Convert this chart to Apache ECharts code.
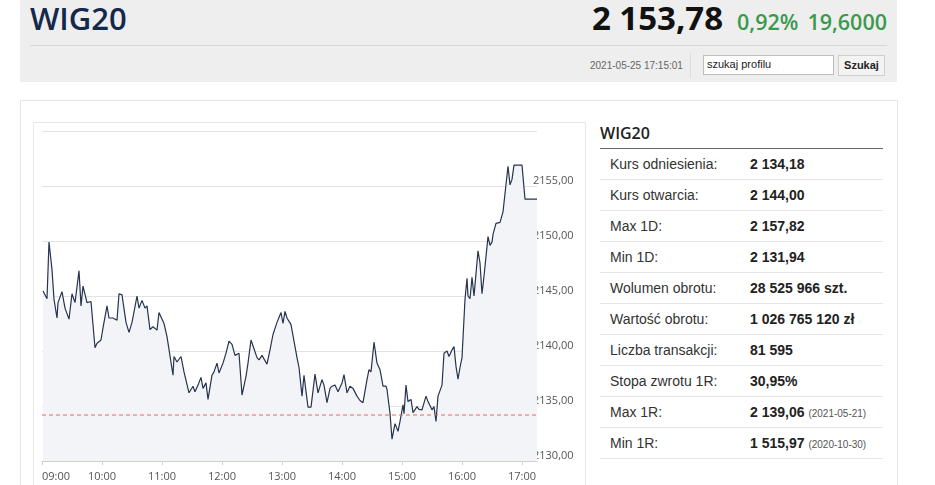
<!DOCTYPE html>
<html>
<head>
<meta charset="utf-8">
<script src="https://cdn.jsdelivr.net/npm/echarts@6/dist/echarts.min.js"></script>
<style>
html, body { margin: 0; padding: 0; width: 935px; height: 485px; overflow: hidden; background: #fff; }
body { position: relative; font-family: "Liberation Sans", Arial, sans-serif; color: #222; }
.abs { position: absolute; }
#head { left: 20px; top: 0; width: 877px; height: 82px; background: #eeeeee; }
#title { left: 30px; top: 0; font: 600 31px/36px "Open Sans", sans-serif; color: #14284b; }
#quote { right: 48px; top: 0; font-family: "Open Sans", sans-serif; white-space: nowrap; line-height: 36px; }
#quote .px { font-size: 33px; font-weight: 700; color: #111; }
#quote .ch { font-size: 21.5px; font-weight: 600; color: #3a9a4c; }
#sep { left: 30px; top: 45px; width: 857px; border-top: 1px solid #d6d6d6; }
#stamp { left: 590px; top: 60px; font-size: 10px; color: #666; }
#vdiv { left: 690px; top: 53px; height: 25px; border-left: 1px solid #dcdcdc; }
#search { left: 703px; top: 55px; background: #fff; border: 1px solid #bdbdbd; font-size: 11px; line-height: 16px; padding-left: 3px; box-sizing: border-box; width: 131px; height: 20px; }
#btn { left: 838px; top: 55px; width: 47px; height: 21px; box-sizing: border-box; background: #f3f3f3; border: 1px solid #cfcfcf; font-size: 11px; font-weight: 700; text-align: center; line-height: 19px; }
#box { left: 20px; top: 100px; width: 876px; height: 400px; border: 1px solid #e6e6e6; }
#panel { left: 33px; top: 122px; width: 551px; height: 400px; border: 1px solid #e8e8e8; }
#chart { left: 34px; top: 123px; width: 550px; height: 368px; }
#tbl { left: 600px; top: 120px; width: 283px; }
#tbl h3 { margin: 0; font: 600 16px/27px "Open Sans", sans-serif; color: #222; border-bottom: 1px solid #666; height: 28px; }
#tbl .row { height: 30px; border-bottom: 1px solid #e6e6e6; font-size: 14px; line-height: 30px; position: relative; }
#tbl .row .l { position: absolute; left: 10px; color: #333; }
#tbl .row .v { position: absolute; left: 150px; font-weight: 700; color: #222; }
#tbl .row .d { font-size: 10px; font-weight: 400; color: #555; }
</style>
</head>
<body>
<div id="head" class="abs"></div>
<div id="title" class="abs">WIG20</div>
<div id="quote" class="abs"><span class="px">2 153,78</span><span class="ch" style="margin-left:14px">0,92%</span><span class="ch" style="margin-left:9px">19,6000</span></div>
<div id="sep" class="abs"></div>
<div id="stamp" class="abs">2021-05-25 17:15:01</div>
<div id="vdiv" class="abs"></div>
<div id="search" class="abs">szukaj profilu</div>
<div id="btn" class="abs">Szukaj</div>
<div id="box" class="abs"></div>
<div id="panel" class="abs"></div>
<div id="chart" class="abs"></div>
<div id="tbl" class="abs">
  <h3>WIG20</h3>
  <div class="row"><span class="l">Kurs odniesienia:</span><span class="v">2 134,18</span></div>
  <div class="row"><span class="l">Kurs otwarcia:</span><span class="v">2 144,00</span></div>
  <div class="row"><span class="l">Max 1D:</span><span class="v">2 157,82</span></div>
  <div class="row"><span class="l">Min 1D:</span><span class="v">2 131,94</span></div>
  <div class="row"><span class="l">Wolumen obrotu:</span><span class="v">28 525 966 szt.</span></div>
  <div class="row"><span class="l">Wartość obrotu:</span><span class="v">1 026 765 120 zł</span></div>
  <div class="row"><span class="l">Liczba transakcji:</span><span class="v">81 595</span></div>
  <div class="row"><span class="l">Stopa zwrotu 1R:</span><span class="v">30,95%</span></div>
  <div class="row"><span class="l">Max 1R:</span><span class="v">2 139,06 <span class="d">(2021-05-21)</span></span></div>
  <div class="row"><span class="l">Min 1R:</span><span class="v">1 515,97 <span class="d">(2020-10-30)</span></span></div>
</div>
<script>
// intraday WIG20 quotes, 2021-05-25
var times = [
  '09:01','09:05','09:07','09:10','09:12','09:15','09:16','09:20','09:23','09:27',
  '09:30','09:33','09:37','09:39','09:41','09:43','09:45','09:49','09:53','09:55',
  '09:59','10:01','10:05','10:07','10:11','10:15','10:17','10:20','10:24','10:27',
  '10:30','10:35','10:37','10:40','10:43','10:45','10:48','10:51','10:55','10:57',
  '10:59','11:02','11:05','11:06','11:11','11:12','11:15','11:19','11:22','11:27',
  '11:31','11:33','11:36','11:39','11:41','11:44','11:46','11:50','11:52','11:55',
  '11:57','12:01','12:04','12:07','12:10','12:13','12:17','12:20','12:24','12:26',
  '12:29','12:31','12:35','12:37','12:40','12:42','12:45','12:48','12:51','12:55',
  '12:59','13:01','13:03','13:05','13:07','13:09','13:11','13:15','13:17','13:20',
  '13:22','13:26','13:29','13:33','13:36','13:40','13:42','13:45','13:48','13:50',
  '13:53','13:56','14:00','14:02','14:05','14:08','14:11','14:15','14:18','14:21',
  '14:25','14:27','14:29','14:32','14:35','14:38','14:41','14:44','14:45','14:48',
  '14:50','14:53','14:56','14:58','15:01','15:02','15:04','15:06','15:09','15:11',
  '15:15','15:17','15:20','15:24','15:26','15:30','15:32','15:34','15:36','15:40',
  '15:42','15:45','15:47','15:50','15:52','15:54','15:56','15:58','16:00','16:03',
  '16:05','16:06','16:08','16:10','16:12','16:14','16:16','16:18','16:20','16:22',
  '16:24','16:26','16:28','16:30','16:31','16:34','16:36','16:38','16:41','16:42',
  '16:46','16:48','16:50','16:52','17:00','17:01','17:03','17:15'
];
var values = [
  2145.45,2144.75,2149.9,2147.4,2144.7,2143.0,2144.4,2145.4,2143.9,2142.9,
  2145.2,2144.4,2147.3,2144.1,2145.9,2146.0,2144.4,2144.5,2140.3,2140.7,
  2141.0,2142.1,2144.1,2143.0,2143.0,2142.8,2145.2,2145.1,2142.6,2141.7,
  2142.6,2145.0,2143.9,2144.6,2143.9,2144.1,2141.95,2142.2,2141.9,2143.5,
  2143.4,2142.5,2141.3,2141.3,2137.8,2139.5,2139.0,2139.5,2138.1,2136.2,
  2136.8,2136.3,2136.9,2137.6,2136.6,2137.1,2135.6,2137.8,2138.1,2138.9,
  2138.0,2138.9,2139.8,2140.9,2140.6,2139.6,2139.8,2136.0,2137.7,2138.9,
  2141.0,2141.0,2139.4,2139.2,2139.6,2139.6,2138.8,2140.1,2141.5,2142.6,
  2143.5,2142.5,2143.6,2143.0,2142.9,2142.4,2142.4,2139.4,2138.5,2135.9,
  2137.8,2134.9,2134.9,2137.9,2136.2,2137.4,2136.9,2135.3,2136.6,2136.8,
  2136.9,2136.3,2137.1,2137.85,2136.2,2136.8,2136.6,2135.9,2135.5,2135.3,
  2137.4,2138.3,2138.1,2140.8,2138.9,2138.3,2136.8,2136.8,2136.5,2134.35,
  2131.98,2133.4,2132.7,2133.6,2135.1,2134.3,2136.9,2135.4,2135.6,2134.4,
  2134.95,2134.7,2134.65,2135.9,2135.4,2134.65,2134.95,2133.6,2135.9,2136.9,
  2139.8,2140.0,2139.5,2140.1,2140.4,2138.6,2137.45,2138.5,2139.4,2144.7,
  2146.6,2145.0,2144.75,2146.7,2145.0,2145.15,2149.1,2148.0,2145.2,2146.8,
  2146.8,2150.4,2149.6,2149.9,2150.6,2151.6,2151.7,2151.7,2152.65,2152.8,
  2156.8,2155.1,2155.6,2156.9,2156.9,2156.8,2153.8,2153.8
];
var refPrice = 2134.18;
var hourTicks = ['09:00','10:00','11:00','12:00','13:00','14:00','15:00','16:00','17:00'];
var sessionStart = '09:00';
var sessionEnd = '17:15';

function toMin(t) {
	var p = t.split(':');
	return (parseInt(p[0], 10) - 9) * 60 + parseInt(p[1], 10);
}
function pad(n) {
	return (n < 10 ? '0' : '') + n;
}

var chart = echarts.init(document.getElementById('chart'));
var points = times.map(function (t, i) { return [toMin(t), values[i]]; });
var tickMins = hourTicks.map(toMin);
var refLine = [[toMin(sessionStart), refPrice], [toMin(sessionEnd), refPrice]];

chart.setOption({
	animation: false,
	grid: { left: 8, top: 8, width: 495, height: 330, outerBoundsMode: 'none' },
	xAxis: {
		type: 'value',
		min: toMin(sessionStart),
		max: toMin(sessionEnd),
		interval: 60,
		splitLine: { show: false },
		axisLine: { lineStyle: { color: '#cfcfcf' } },
		axisTick: { show: true, length: 4, customValues: tickMins, lineStyle: { color: '#cfcfcf' } },
		axisLabel: {
			customValues: tickMins,
			alignMinLabel: 'left',
			color: '#555',
			fontSize: 11,
			fontFamily: 'Open Sans',
			margin: 10,
			formatter: function (v) { return pad(9 + Math.floor(v / 60)) + ':' + pad(v % 60); }
		}
	},
	yAxis: {
		type: 'value',
		position: 'right',
		min: 2130,
		max: 2160,
		interval: 5,
		axisLine: { show: false },
		axisTick: { show: false },
		splitLine: { lineStyle: { color: '#e2e2e2' } },
		axisLabel: {
			showMaxLabel: false,
			margin: -4,
			color: '#555',
			fontSize: 11,
			fontFamily: 'Open Sans',
			verticalAlign: 'bottom',
			lineHeight: 10,
			formatter: function (v) { return v.toFixed(2).replace('.', ','); }
		}
	},
	series: [{
		type: 'line',
		data: points,
		symbol: 'none',
		lineStyle: { color: '#27344f', width: 1.2 },
		areaStyle: { color: '#f3f4f7', opacity: 1, origin: 'start' },
		z: 2
	}, {
		type: 'line',
		data: refLine,
		symbol: 'none',
		silent: true,
		color: '#e36a6a',
		lineStyle: { color: '#e36a6a', type: [4, 3], width: 1 },
		z: 3
	}]
});
</script>
</body>
</html>
